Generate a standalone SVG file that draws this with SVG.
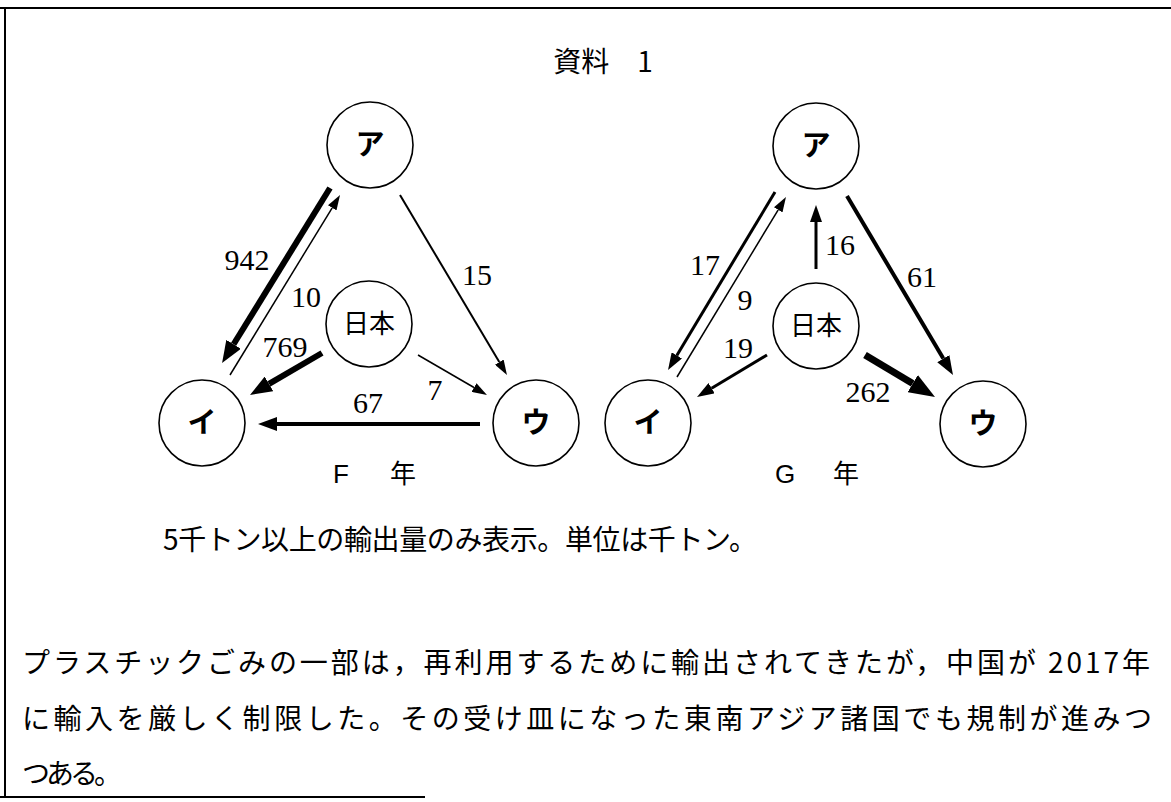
<svg xmlns="http://www.w3.org/2000/svg" width="1171" height="802" viewBox="0 0 1171 802">
<style>
.node circle{fill:#fff;stroke:#000;stroke-width:1.6}
.kana{font-family:"Noto Sans CJK JP","Noto Sans CJK SC",sans-serif;font-size:29px;font-weight:bold;text-anchor:middle}
.jp{font-family:"Noto Sans CJK JP","Noto Sans CJK SC",sans-serif;font-size:26px;text-anchor:middle}
.num{font-family:"Liberation Serif",serif;font-size:30px;text-anchor:middle}
.txt{font-family:"Noto Sans CJK JP","Noto Sans CJK SC",sans-serif;font-size:28px}
.yr{font-family:"Liberation Sans","Noto Sans CJK JP",sans-serif;font-size:26px;text-anchor:middle}
#connectors line{stroke:#000;fill:none}
</style>
<defs>
<marker id="sm" markerUnits="userSpaceOnUse" markerWidth="15" markerHeight="10" viewBox="0 0 15 10" refX="0" refY="5" orient="auto"><path d="M0,0 L15,5 L0,10 Z"/></marker>
<marker id="md" markerUnits="userSpaceOnUse" markerWidth="17" markerHeight="12" viewBox="0 0 17 12" refX="0" refY="6" orient="auto"><path d="M0,0 L17,6 L0,12 Z"/></marker>
<marker id="ml" markerUnits="userSpaceOnUse" markerWidth="19" markerHeight="14" viewBox="0 0 19 14" refX="0" refY="7" orient="auto"><path d="M0,0 L19,7 L0,14 Z"/></marker>
<marker id="lg" markerUnits="userSpaceOnUse" markerWidth="22" markerHeight="17" viewBox="0 0 22 17" refX="0" refY="8.5" orient="auto"><path d="M0,0 L22,8.5 L0,17 Z"/></marker>
<marker id="xl" markerUnits="userSpaceOnUse" markerWidth="26" markerHeight="20" viewBox="0 0 26 20" refX="0" refY="10" orient="auto"><path d="M0,0 L26,10 L0,20 Z"/></marker>
</defs>
<rect width="1171" height="802" fill="#fff"/>
<g id="frame" stroke="#000" stroke-width="2" fill="none">
<line x1="0" y1="8" x2="1171" y2="8"/>
<line x1="5" y1="8" x2="5" y2="797"/>
<line x1="0" y1="797" x2="425" y2="797"/>
</g>
<text x="603" y="72" class="txt" text-anchor="middle">資料　1</text>
<g id="connectors">
<line x1="330" y1="188" x2="233.6" y2="344.3" stroke-width="6" marker-end="url(#lg)"/>
<line x1="230" y1="375" x2="332.2" y2="207.8" stroke-width="1.5" marker-end="url(#sm)"/>
<line x1="400" y1="195" x2="499.3" y2="362.1" stroke-width="2" marker-end="url(#sm)"/>
<line x1="322" y1="353" x2="269" y2="383.9" stroke-width="6" marker-end="url(#lg)"/>
<line x1="418" y1="355" x2="474" y2="387.5" stroke-width="1.5" marker-end="url(#sm)"/>
<line x1="480" y1="424" x2="277" y2="424" stroke-width="4" marker-end="url(#ml)"/>
<line x1="775" y1="192" x2="676.8" y2="355.4" stroke-width="3" marker-end="url(#md)"/>
<line x1="677" y1="377" x2="778.2" y2="209.8" stroke-width="1.5" marker-end="url(#sm)"/>
<line x1="816" y1="269" x2="816" y2="222" stroke-width="3" marker-end="url(#md)"/>
<line x1="847" y1="196" x2="943.3" y2="358.6" stroke-width="4" marker-end="url(#ml)"/>
<line x1="767" y1="355" x2="711.6" y2="388.2" stroke-width="3" marker-end="url(#md)"/>
<line x1="865" y1="355" x2="912.7" y2="383.6" stroke-width="7" marker-end="url(#xl)"/>
</g>
<g id="labels" class="num">
<text x="247" y="270">942</text>
<text x="306" y="307">10</text>
<text x="477" y="285">15</text>
<text x="285" y="357">769</text>
<text x="435" y="400">7</text>
<text x="368" y="413">67</text>
<text x="705" y="275">17</text>
<text x="745" y="310">9</text>
<text x="840" y="255">16</text>
<text x="922" y="287">61</text>
<text x="738" y="358">19</text>
<text x="868" y="402">262</text>
</g>
<g id="F-a" class="node"><circle cx="370" cy="145" r="43"/><text x="370" y="155" class="kana">ア</text></g>
<g id="F-jp" class="node"><circle cx="369" cy="324" r="43"/><text x="369" y="333" class="jp">日本</text></g>
<g id="F-i" class="node"><circle cx="202" cy="423" r="43"/><text x="202" y="433" class="kana">イ</text></g>
<g id="F-u" class="node"><circle cx="536" cy="423" r="43"/><text x="536" y="433" class="kana">ウ</text></g>
<g id="G-a" class="node"><circle cx="816" cy="146" r="43"/><text x="816" y="156" class="kana">ア</text></g>
<g id="G-jp" class="node"><circle cx="816" cy="326" r="43"/><text x="816" y="335" class="jp">日本</text></g>
<g id="G-i" class="node"><circle cx="648" cy="423" r="43"/><text x="648" y="433" class="kana">イ</text></g>
<g id="G-u" class="node"><circle cx="983" cy="424" r="43"/><text x="983" y="434" class="kana">ウ</text></g>
<text x="341" y="483" class="yr">F</text>
<text x="403" y="483" class="yr">年</text>
<text x="785" y="483" class="yr">G</text>
<text x="846" y="483" class="yr">年</text>
<text x="163" y="550" class="txt" font-size="26" textLength="594" lengthAdjust="spacing">5千トン以上の輸出量のみ表示。単位は千トン。</text>
<text x="22" y="673" class="txt" textLength="1128" lengthAdjust="spacing">プラスチックごみの一部は，再利用するために輸出されてきたが，中国が 2017年</text>
<text x="22" y="729" class="txt" textLength="1130" lengthAdjust="spacing">に輸入を厳しく制限した。その受け皿になった東南アジア諸国でも規制が進みつ</text>
<text x="22" y="784" class="txt" textLength="100" lengthAdjust="spacing">つある。</text>
</svg>
